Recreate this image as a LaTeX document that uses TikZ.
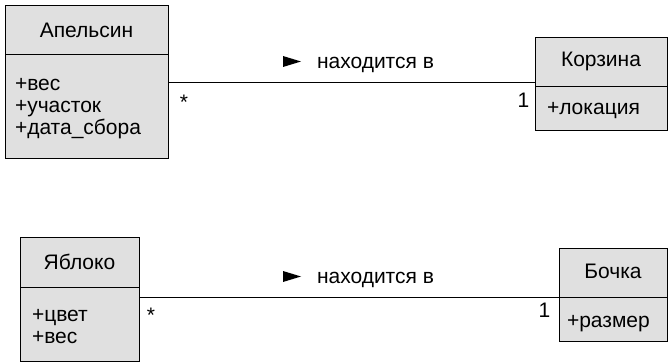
\documentclass[tikz,border=0pt]{standalone}
\usepackage{fontspec}
\setmainfont{Liberation Sans}
\begin{document}
\begin{tikzpicture}[x=1pt,y=-1pt,
  every node/.style={inner sep=0pt,outer sep=0pt},
  txt/.style={font=\fontsize{21}{22}\selectfont},
  comp/.style={draw=black,line width=1pt,fill=black!12,anchor=north west},
  ttl/.style={txt,anchor=base},
  attr/.style={txt,anchor=base west},
  mult/.style={txt,anchor=base},
  conn/.style={line width=0.9pt}]
\useasboundingbox (0,0) rectangle (668,363);

% Class: Апельсин
\node[comp,minimum width=163pt,minimum height=49pt] (oT) at (5,6) {};
\node[ttl] (oTt) at (86.5,38) {Апельсин};
\node[comp,minimum width=163pt,minimum height=104pt] (oA) at (5,55) {};
\node[attr] (oA1) at (15,91) {+вес};
\node[attr] (oA2) at (15,113) {+участок};
\node[attr] (oA3) at (15,135) {+дата\_сбора};

% Class: Корзина
\node[comp,minimum width=132pt,minimum height=49pt] (kT) at (535,38) {};
\node[ttl] (kTt) at (601,67) {Корзина};
\node[comp,minimum width=132pt,minimum height=44pt] (kA) at (535,87) {};
\node[attr] (kA1) at (547,115) {+локация};

% Class: Яблоко
\node[comp,minimum width=119pt,minimum height=50pt] (yT) at (20,237) {};
\node[ttl] (yTt) at (79.5,269) {Яблоко};
\node[comp,minimum width=119pt,minimum height=74pt] (yA) at (20,287) {};
\node[attr] (yA1) at (32,321) {+цвет};
\node[attr] (yA2) at (32,343) {+вес};

% Class: Бочка
\node[comp,minimum width=108pt,minimum height=49pt] (bT) at (559,248) {};
\node[ttl] (bTt) at (613,278) {Бочка};
\node[comp,minimum width=108pt,minimum height=44pt] (bA) at (559,297) {};
\node[attr] (bA1) at (567,327) {+размер};

% Association: Апельсин -- Корзина
\coordinate (e1) at ([yshift=-27pt]oA.north east);
\draw[conn] (e1) -- (e1 -| kT.west);
\node[mult] (m1) at (184,110) {*};
\node[mult] (n1) at (523.5,107.5) {1};
\fill (283,56) -- (301,61.5) -- (283,67) -- cycle;
\node[attr] (r1) at (317,68.5) {находится в};

% Association: Яблоко -- Бочка
\draw[conn] (bT.south west -| yA.east) -- (bT.south west);
\node[mult] (m2) at (151,322) {*};
\node[mult] (n2) at (544.5,317) {1};
\fill (283,271) -- (301,276.5) -- (283,282) -- cycle;
\node[attr] (r2) at (317,283.5) {находится в};
\end{tikzpicture}
\end{document}
